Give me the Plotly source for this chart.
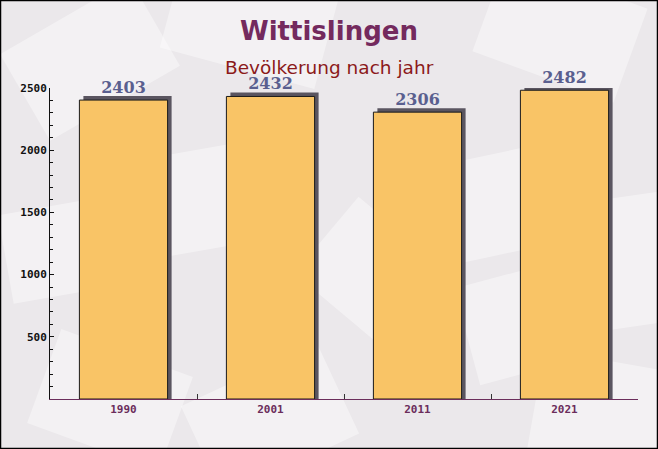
import math
import plotly.graph_objects as go

years = ["1990", "2001", "2011", "2021"]
population = [2403, 2432, 2306, 2482]
y_tick_values = [500, 1000, 1500, 2000, 2500]

W, H = 658, 449
ML, MR, MT, MB = 50, 20, 88, 50
plot_w = W - ML - MR
plot_h = H - MT - MB
y_max = 2500
bar_width = 0.6
shadow_dx = 4 / (plot_w / len(years))   # px -> data units
shadow_dy = 4 * y_max / plot_h

fig = go.Figure()

# shadow
fig.add_trace(go.Bar(
    x=years, y=[v + shadow_dy for v in population],
    width=bar_width, offset=-bar_width / 2 + shadow_dx,
    marker=dict(color="#5a5560", line=dict(width=0)),
    hoverinfo="skip", showlegend=False,
))
# main bars
fig.add_trace(go.Bar(
    x=years, y=population,
    width=bar_width, offset=-bar_width / 2,
    marker=dict(color="#f9c466", line=dict(color="#1a1a1a", width=1)),
    text=[str(v) for v in population], textposition="outside",
    textfont=dict(family="DejaVu Serif", size=16, color="#5a5f8f", weight="bold"),
    constraintext="none", cliponaxis=False, showlegend=False,
))


def px_to_paper(px, py):
    return (px - ML) / plot_w, (H - MB - py) / plot_h


def envelope(cx, cy, w, h, ang):
    a = math.radians(ang)
    pts = []
    for dx, dy in [(-w / 2, -h / 2), (w / 2, -h / 2), (w / 2, h / 2), (-w / 2, h / 2)]:
        x = cx + dx * math.cos(a) - dy * math.sin(a)
        y = cy + dx * math.sin(a) + dy * math.cos(a)
        pts.append(px_to_paper(x, y))
    path = "M " + " L ".join(f"{x:.4f},{y:.4f}" for x, y in pts) + " Z"
    return dict(type="path", xref="paper", yref="paper", path=path,
                fillcolor="rgba(255,255,255,0.4)", line=dict(width=0), layer="below")


# decorative background envelopes (pixel centre, size, angle)
deco = [
    (90, 60, 150, 100, -30), (250, 20, 160, 100, 15), (560, 30, 150, 100, 20),
    (200, 200, 130, 100, -10), (470, 210, 130, 100, -12), (380, 280, 140, 100, 40),
    (530, 320, 130, 100, -15), (60, 250, 110, 90, -10), (110, 400, 140, 100, 20),
    (270, 420, 150, 100, -25), (600, 410, 130, 100, 10), (640, 260, 90, 130, -8),
]
shapes = [envelope(*d) for d in deco]
shapes.append(dict(type="rect", xref="paper", yref="paper",
                   x0=-ML / plot_w + 0.5 / plot_w, x1=1 + MR / plot_w - 0.5 / plot_w,
                   y0=-MB / plot_h + 0.5 / plot_h, y1=1 + MT / plot_h - 0.5 / plot_h,
                   line=dict(color="#000", width=1.5), layer="above"))

fig.update_layout(
    width=W, height=H,
    margin=dict(l=ML, r=MR, t=MT, b=MB),
    paper_bgcolor="#ebe8eb",
    plot_bgcolor="rgba(0,0,0,0)",
    barmode="overlay",
    showlegend=False,
    xaxis=dict(
        type="category", range=[-0.5, 3.5],
        showgrid=False, zeroline=False,
        showline=True, linecolor="#6b2d5b", linewidth=1,
        ticks="inside", tickson="boundaries", ticklen=5, tickcolor="#333",
        tickfont=dict(family="DejaVu Sans Mono", size=11, color="#6b2d5b", weight="bold"),
    ),
    yaxis=dict(
        range=[0, y_max],
        tickvals=y_tick_values,
        showgrid=False, zeroline=False,
        showline=True, linecolor="#111", linewidth=1,
        ticks="inside", ticklen=4, tickcolor="#111",
        minor=dict(dtick=100, ticks="inside", ticklen=3, tickcolor="#111"),
        tickfont=dict(family="DejaVu Sans Mono", size=11, color="#111", weight="bold"),
    ),
    annotations=[
        dict(text="<b>Wittislingen</b>", xref="paper", yref="paper",
             x=(W / 2 - ML) / plot_w, y=1 + (MT - 31) / plot_h,
             showarrow=False, xanchor="center", yanchor="middle",
             font=dict(family="DejaVu Sans", size=26, color="#742a5e")),
        dict(text="Bevölkerung nach jahr", xref="paper", yref="paper",
             x=(W / 2 - ML) / plot_w, y=1 + (MT - 67) / plot_h,
             showarrow=False, xanchor="center", yanchor="middle",
             font=dict(family="DejaVu Sans", size=18.5, color="#8b1a1a")),
    ],
    shapes=shapes,
)

fig.write_html("out.html", config={"displayModeBar": False},
               post_script="document.body.style.margin='0';document.body.style.overflow='hidden';")
